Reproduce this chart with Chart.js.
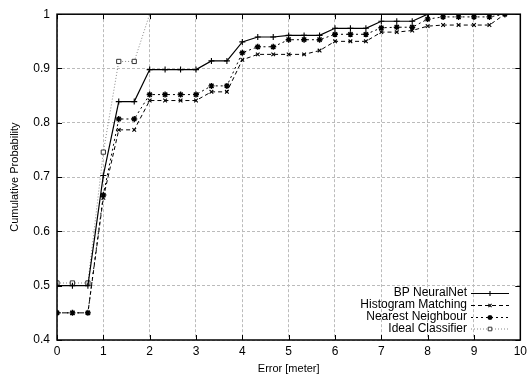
<!DOCTYPE html>
<html>
<head>
<meta charset="utf-8">
<script src="https://cdn.jsdelivr.net/npm/chart.js@4/dist/chart.umd.min.js"></script>
<style>
  html, body { margin: 0; padding: 0; background: #fff; }
  canvas { display: block; }
</style>
</head>
<body>
<canvas id="cdf" width="531" height="376"></canvas>
<script>
// error steps (meter) shared by all curves
const errors = [0, 0.333, 0.667, 1, 1.333, 1.667, 2, 2.333, 2.667, 3, 3.333, 3.667, 4, 4.333, 4.667,
    5, 5.333, 5.667, 6, 6.333, 6.667, 7, 7.333, 7.667, 8, 8.333, 8.667, 9, 9.333, 9.667];

const bpNeuralNet = [0.5, 0.5, 0.5, 0.703, 0.839, 0.839, 0.898, 0.898, 0.898, 0.898, 0.914, 0.914, 0.949, 0.958, 0.958,
    0.961, 0.961, 0.961, 0.974, 0.974, 0.974, 0.987, 0.987, 0.987, 1, 1, 1, 1, 1, 1];
const histogramMatching = [0.45, 0.45, 0.45, 0.662, 0.787, 0.787, 0.841, 0.841, 0.841, 0.841, 0.857, 0.857, 0.916, 0.926, 0.926,
    0.926, 0.926, 0.933, 0.95, 0.95, 0.95, 0.967, 0.967, 0.97, 0.978, 0.98, 0.98, 0.98, 0.98, 1];
const nearestNeighbour = [0.45, 0.45, 0.45, 0.667, 0.807, 0.807, 0.852, 0.852, 0.852, 0.852, 0.868, 0.868, 0.929, 0.94, 0.94,
    0.953, 0.953, 0.953, 0.963, 0.963, 0.963, 0.975, 0.976, 0.976, 0.991, 0.995, 0.995, 0.995, 0.995, 1];
const idealClassifier = [0.505, 0.505, 0.505, 0.746, 0.913, 0.913, 1.0];

const seriesNames = ['BP NeuralNet', 'Histogram Matching', 'Nearest Neighbour', 'Ideal Classifier'];
const xTicks = [0, 1, 2, 3, 4, 5, 6, 7, 8, 9, 10];
const yTicks = [0.4, 0.5, 0.6, 0.7, 0.8, 0.9, 1];

const FONT = '"Liberation Sans", Arial, Helvetica, sans-serif';

const toPoints = (vals) => vals.map((v, i) => ({ x: errors[i], y: v }));

const styles = [
    { color: '#000', dash: [], width: 1.2, point: 'cross', r: 3, pw: 1.1, fill: '#000' },
    { color: '#000', dash: [4, 3], width: 1, point: 'crossRot', r: 2.6, pw: 1.1, fill: '#000' },
    { color: '#000', dash: [2, 3], width: 1, point: 'star', r: 3, pw: 1.4, fill: '#000' },
    { color: '#888', dash: [1, 2], width: 1, point: 'rect', r: 3, pw: 1, fill: '#fff' }
];
const seriesData = [bpNeuralNet, histogramMatching, nearestNeighbour, idealClassifier];

const datasets = seriesData.map((vals, k) => {
    const s = styles[k];
    return {
        label: seriesNames[k],
        data: toPoints(vals),
        borderColor: s.color,
        borderWidth: s.width,
        borderDash: s.dash,
        pointStyle: s.point,
        pointRadius: k === 3 ? vals.map((v, i) => i === vals.length - 1 ? 0 : s.r) : s.r,
        pointBorderColor: k === 3 ? '#333' : '#000',
        pointBackgroundColor: s.fill,
        pointBorderWidth: s.pw,
        tension: 0,
        fill: false
    };
});

// border box, inward ticks and the gnuplot style key
const framePlugin = {
    id: 'frame',
    afterDraw(chart) {
        const { ctx, chartArea: a, scales } = chart;
        ctx.save();
        ctx.strokeStyle = '#000';
        ctx.lineWidth = 1.5;
        ctx.setLineDash([]);
        ctx.strokeRect(a.left, a.top, a.right - a.left, a.bottom - a.top);

        ctx.lineWidth = 1;
        ctx.beginPath();
        xTicks.forEach(t => {
            const px = Math.round(scales.x.getPixelForValue(t)) + 0.5;
            ctx.moveTo(px, a.bottom); ctx.lineTo(px, a.bottom - 5);
            ctx.moveTo(px, a.top); ctx.lineTo(px, a.top + 5);
        });
        yTicks.forEach(t => {
            const py = Math.round(scales.y.getPixelForValue(t)) + 0.5;
            ctx.moveTo(a.left, py); ctx.lineTo(a.left + 5, py);
            ctx.moveTo(a.right, py); ctx.lineTo(a.right - 5, py);
        });
        ctx.stroke();

        // key
        ctx.font = '12px ' + FONT;
        ctx.textAlign = 'right';
        ctx.textBaseline = 'middle';
        ctx.fillStyle = '#000';
        const rows = [293, 305, 317, 328.5];
        seriesNames.forEach((name, k) => {
            const s = styles[k];
            const y = rows[k];
            ctx.fillText(name, 467, y);
            ctx.strokeStyle = s.color;
            ctx.lineWidth = s.width;
            ctx.setLineDash(s.dash);
            ctx.beginPath();
            ctx.moveTo(471, y + 0.5); ctx.lineTo(509, y + 0.5);
            ctx.stroke();
            ctx.setLineDash([]);
            ctx.lineWidth = s.pw;
            ctx.strokeStyle = k === 3 ? '#333' : '#000';
            ctx.fillStyle = s.fill;
            Chart.helpers.drawPoint(ctx, { pointStyle: s.point, radius: s.r * 0.85, borderWidth: s.pw }, 490, y + 0.5);
            ctx.fillStyle = '#000';
        });
        ctx.restore();
    }
};

new Chart(document.getElementById('cdf'), {
    type: 'line',
    data: { datasets },
    options: {
        responsive: false,
        animation: false,
        layout: { padding: { left: 0, right: 8, top: 12, bottom: 0 } },
        plugins: { legend: { display: false }, tooltip: { enabled: false } },
        scales: {
            x: {
                type: 'linear',
                min: 0, max: 10,
                afterBuildTicks: s => { s.ticks = xTicks.map(v => ({ value: v })); },
                afterFit: s => { s.height = 36; },
                grid: { color: '#bbb', lineWidth: 1, drawTicks: false },
                border: { display: false, dash: [3, 2] },
                ticks: { color: '#000', font: { family: FONT, size: 12 }, padding: 4, maxRotation: 0 },
                title: { display: true, text: 'Error [meter]', color: '#000', font: { family: FONT, size: 11 }, padding: { top: 0, bottom: 0 } }
            },
            y: {
                min: 0.4, max: 1,
                afterBuildTicks: s => { s.ticks = yTicks.map(v => ({ value: v })); },
                afterFit: s => { s.width = 57; },
                grid: { color: '#bbb', lineWidth: 1, drawTicks: false },
                border: { display: false, dash: [3, 2] },
                ticks: { color: '#000', font: { family: FONT, size: 12 }, padding: 7,
                    callback: v => String(Number(v.toFixed(1))) },
                title: { display: true, text: 'Cumulative Probability', color: '#000', font: { family: FONT, size: 11 }, padding: { top: 8, bottom: 0 } }
            }
        }
    },
    plugins: [framePlugin]
});
</script>
</body>
</html>
